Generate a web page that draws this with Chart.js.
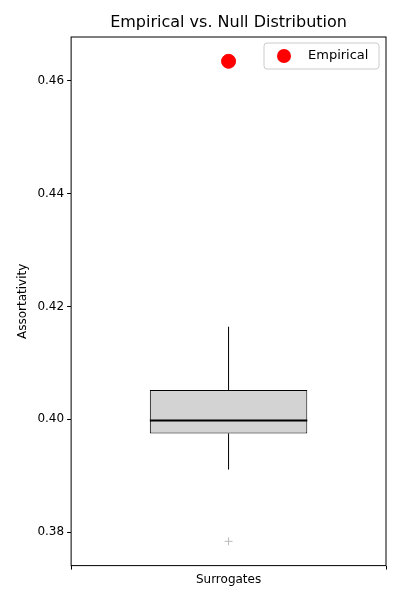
<!DOCTYPE html>
<html>
<head>
<meta charset="utf-8">
<script src="https://cdn.jsdelivr.net/npm/chart.js@4"></script>
<style>
  html, body { margin: 0; padding: 0; background: #fff; }
  #wrap { width: 400px; height: 600px; }
</style>
</head>
<body>
<div id="wrap"><canvas id="c"></canvas></div>
<script>
const categories = ['Surrogates'];
const boxStats = { min: 0.3911, q1: 0.3975, median: 0.3998, q3: 0.4052, max: 0.4164 };
const outliers = [0.3784];
const empirical = [0.4634];
const yTicks = [0.38, 0.40, 0.42, 0.44, 0.46];

const font = { family: 'DejaVu Sans', size: 12 };

const boxPlugin = {
    id: 'boxExtras',
    afterDatasetsDraw(chart) {
        const { ctx, chartArea: a, scales: { x, y } } = chart;
        const cx = x.getPixelForValue(0);
        const meta = chart.getDatasetMeta(0).data[0];
        const half = meta.width / 2;
        ctx.save();
        ctx.strokeStyle = '#000';
        ctx.lineWidth = 1;
        ctx.beginPath();
        ctx.moveTo(cx, y.getPixelForValue(boxStats.q3));
        ctx.lineTo(cx, y.getPixelForValue(boxStats.max));
        ctx.moveTo(cx, y.getPixelForValue(boxStats.q1));
        ctx.lineTo(cx, y.getPixelForValue(boxStats.min));
        ctx.stroke();
        ctx.lineWidth = 2;
        ctx.beginPath();
        const my = y.getPixelForValue(boxStats.median);
        ctx.moveTo(cx - half, my);
        ctx.lineTo(cx + half, my);
        ctx.stroke();
        // frame
        ctx.lineWidth = 1;
        ctx.strokeRect(a.left, a.top, a.right - a.left, a.bottom - a.top);
        // title centred over the plot area
        ctx.fillStyle = '#000';
        ctx.font = '16px DejaVu Sans';
        ctx.textAlign = 'center';
        ctx.textBaseline = 'middle';
        ctx.fillText('Empirical vs. Null Distribution', (a.left + a.right) / 2, 23);
        // legend
        const lx = a.right - 122, ly = a.top + 6;
        ctx.fillStyle = 'rgba(255,255,255,0.8)';
        ctx.strokeStyle = '#ccc';
        ctx.beginPath();
        ctx.roundRect(lx, ly, 115, 26, 3);
        ctx.fill();
        ctx.stroke();
        ctx.fillStyle = 'red';
        ctx.beginPath();
        ctx.arc(lx + 20, ly + 13, 7, 0, Math.PI * 2);
        ctx.fill();
        ctx.fillStyle = '#000';
        ctx.font = '13px DejaVu Sans';
        ctx.textAlign = 'left';
        ctx.fillText('Empirical', lx + 44, ly + 13);
        ctx.restore();
    }
};

new Chart(document.getElementById('c'), {
    data: {
        labels: categories,
        datasets: [
            {
                type: 'bar',
                data: [[boxStats.q1, boxStats.q3]],
                backgroundColor: 'lightgray',
                borderColor: '#000',
                borderWidth: 1,
                borderSkipped: false,
                barPercentage: 0.5,
                categoryPercentage: 1,
                order: 2
            },
            {
                type: 'line',
                data: outliers,
                showLine: false,
                pointStyle: 'cross',
                pointRadius: 4,
                borderColor: '#bbb',
                borderWidth: 1,
                order: 1
            },
            {
                type: 'line',
                label: 'Empirical',
                data: empirical,
                showLine: false,
                pointRadius: 7,
                backgroundColor: 'red',
                borderColor: 'red',
                order: 0
            }
        ]
    },
    options: {
        responsive: true,
        maintainAspectRatio: false,
        animation: false,
        layout: { padding: { left: 12, right: 14, top: 37, bottom: 10 } },
        plugins: {
            legend: { display: false },
            tooltip: { enabled: false },
            title: { display: false }
        },
        scales: {
            x: {
                grid: { display: true, drawOnChartArea: false, tickLength: 4, color: '#000' },
                border: { display: false },
                ticks: { color: '#000', font: font }
            },
            y: {
                min: 0.3741,
                max: 0.4677,
                grid: { display: true, drawOnChartArea: false, tickLength: 4, color: '#000' },
                border: { display: false },
                afterBuildTicks: (s) => { s.ticks = yTicks.map(v => ({ value: v })); },
                ticks: { color: '#000', font: font, callback: (v) => v.toFixed(2) },
                title: { display: true, text: 'Assortativity', color: '#000', font: font }
            }
        }
    },
    plugins: [boxPlugin]
});
</script>
</body>
</html>
